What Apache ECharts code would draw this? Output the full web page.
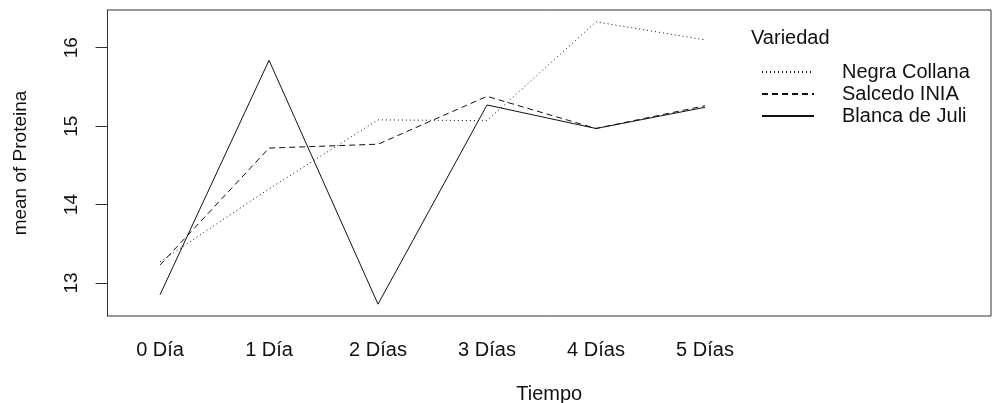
<!DOCTYPE html>
<html>
<head>
<meta charset="utf-8">
<script src="https://cdn.jsdelivr.net/npm/echarts@6/dist/echarts.min.js"></script>
<style>html,body{margin:0;padding:0;background:#fff}#c{width:992px;height:403px}</style>
</head>
<body>
<div id="c"></div>
<script>
var categories = ['0 Día', '1 Día', '2 Días', '3 Días', '4 Días', '5 Días'];
var seriesNames = ['Negra Collana', 'Salcedo INIA', 'Blanca de Juli'];
var negraCollana = [13.27, 14.20, 15.08, 15.07, 16.33, 16.10];
var salcedoINIA = [13.23, 14.72, 14.77, 15.38, 14.97, 15.26];
var blancaDeJuli = [12.85, 15.84, 12.73, 15.27, 14.97, 15.24];
var yTicks = [13, 14, 15, 16];
var legendTitle = 'Variedad';
var xTitle = 'Tiempo';
var yTitle = 'mean of Proteina';

var FONT = 'Liberation Sans, Arial, sans-serif';
function pairs(arr) { return arr.map(function (v, i) { return [i + 1, v]; }); }
var xTickVals = categories.map(function (c, i) { return i + 1; });
var dashes = [[1, 3], [6, 4], 'solid'];
var allData = [negraCollana, salcedoINIA, blancaDeJuli];

var chart = echarts.init(document.getElementById('c'), null, { renderer: 'canvas' });
chart.setOption({
  animation: false,
  backgroundColor: '#fff',
  title: {
    text: legendTitle, left: 751, top: 28, padding: 0,
    textStyle: { fontFamily: FONT, fontSize: 20, fontWeight: 'normal', color: '#111' }
  },
  legend: {
    left: 761, top: 62, padding: 0, orient: 'vertical', itemWidth: 52, itemHeight: 14, itemGap: 2,
    data: seriesNames,
    itemStyle: { opacity: 0 },
    textStyle: { fontFamily: FONT, fontSize: 20, color: '#111', lineHeight: 20, padding: [0, 0, 0, 23] }
  },
  grid: { left: 107.5, top: 10, right: 1, bottom: 87, outerBoundsMode: 'none', containLabel: false,
    show: true, borderColor: '#333', borderWidth: 1, backgroundColor: 'transparent' },
  xAxis: {
    type: 'value', min: 0.518, max: 8.624,
    name: xTitle, nameLocation: 'middle', nameGap: 68,
    nameTextStyle: { fontFamily: FONT, fontSize: 20, color: '#111' },
    axisLine: { show: false }, axisTick: { show: false }, splitLine: { show: false },
    axisLabel: {
      customValues: xTickVals, margin: 24,
      fontFamily: FONT, fontSize: 20, color: '#111',
      formatter: function (v) { return categories[Math.round(v) - 1] || ''; }
    }
  },
  yAxis: {
    type: 'value', min: 12.579, max: 16.481,
    name: yTitle, nameLocation: 'middle', nameGap: 77, nameRotate: 90,
    nameTextStyle: { fontFamily: FONT, fontSize: 19, color: '#111' },
    axisLine: { show: true, lineStyle: { color: '#333', width: 1 } },
    axisTick: { show: true, customValues: yTicks, length: 12, lineStyle: { color: '#333' } },
    splitLine: { show: false },
    axisLabel: {
      customValues: yTicks, rotate: 90, margin: 26,
      fontFamily: FONT, fontSize: 19, color: '#111'
    }
  },
  series: seriesNames.map(function (n, i) {
    return {
      name: n, type: 'line', symbol: 'none', data: pairs(allData[i]),
      itemStyle: { color: '#111' },
      lineStyle: { color: '#111', width: 1, type: dashes[i] }
    };
  })
});
</script>
</body>
</html>
